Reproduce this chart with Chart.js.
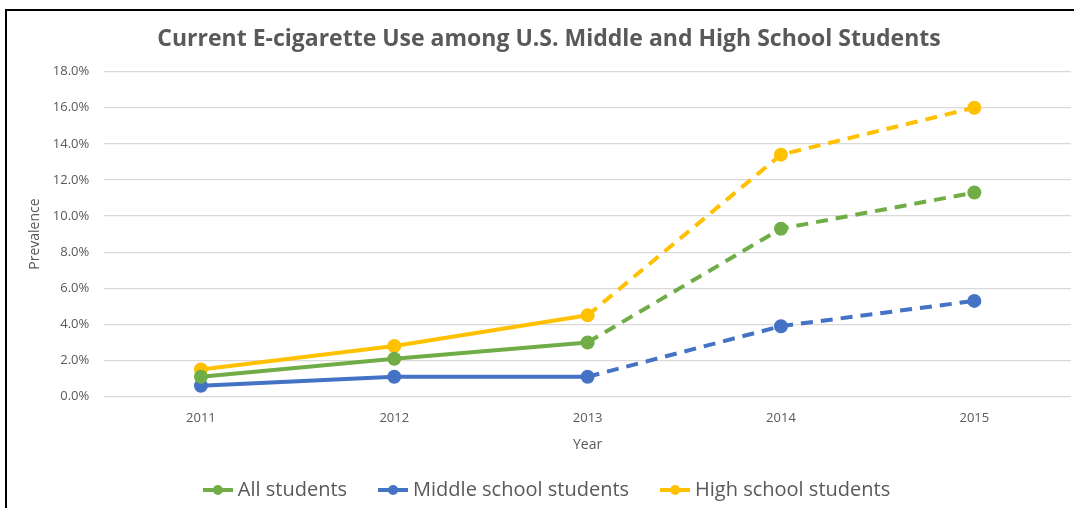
<!DOCTYPE html>
<html>
<head>
<meta charset="utf-8">
<script src="https://cdn.jsdelivr.net/npm/chart.js@4"></script>
<style>
  body { margin: 0; background: #fff; }
  #wrap { position: absolute; left: 0; top: 0; width: 1074px; height: 508px; }
  #frame { position: absolute; left: 5px; top: 9px; width: 1080px; height: 520px;
           border-left: 2px solid #000; border-top: 2px solid #000; pointer-events: none; }
</style>
</head>
<body>
<div id="wrap"><canvas id="myChart" width="1074" height="508"></canvas></div>
<div id="frame"></div>
<script>
let years = ['2011', '2012', '2013', '2014', '2015'];
let allStudents = [1.1, 2.1, 3.0, 9.3, 11.3];
let middleSchool = [0.6, 1.1, 1.1, 3.9, 5.3];
let highSchool = [1.5, 2.8, 4.5, 13.4, 16.0];
let names = ['All students', 'Middle school students', 'High school students'];
let colorHex = ['#70AD47', '#4472C4', '#FFC000'];

// legend marker: short line with a dot in the middle
function marker(color) {
    let c = document.createElement('canvas');
    c.width = 30; c.height = 12;
    let g = c.getContext('2d');
    g.strokeStyle = color;
    g.lineWidth = 4;
    g.beginPath(); g.moveTo(0, 6); g.lineTo(30, 6); g.stroke();
    g.fillStyle = color;
    g.beginPath(); g.arc(15, 6, 5, 0, Math.PI * 2); g.fill();
    return c;
}

function series(i, data) {
    return {
        label: names[i],
        data: data,
        borderColor: colorHex[i],
        backgroundColor: colorHex[i],
        borderWidth: 4,
        pointRadius: 5,
        pointHoverRadius: 5,
        pointStyle: 'circle',
        tension: 0,
        segment: {
            borderDash: (ctx) => ctx.p0DataIndex >= 2 ? [12, 8] : undefined
        }
    };
}

let ctx = document.getElementById('myChart').getContext('2d');
let myChart = new Chart(ctx, {
    type: 'line',
    data: {
        labels: years,
        datasets: [
            series(0, allStudents),
            series(1, middleSchool),
            series(2, highSchool)
        ]
    },
    options: {
        responsive: false,
        animation: false,
        layout: { autoPadding: false, padding: { left: 27, right: 3, top: 20, bottom: -2 } },
        plugins: {
            title: {
                display: true,
                text: 'Current E-cigarette Use among U.S. Middle and High School Students',
                color: '#595959',
                font: { family: 'Open Sans', size: 23, weight: 'bold' },
                padding: { top: 6, bottom: 18 }
            },
            legend: {
                position: 'bottom',
                labels: {
                    color: '#595959',
                    font: { family: 'Open Sans', size: 20 },
                    usePointStyle: true,
                    padding: 36,
                    boxWidth: 30,
                    generateLabels: (chart) => chart.data.datasets.map((d, i) => ({
                        text: d.label,
                        pointStyle: marker(colorHex[i]),
                        fillStyle: colorHex[i],
                        strokeStyle: colorHex[i],
                        fontColor: '#595959',
                        lineWidth: 0,
                        datasetIndex: i
                    }))
                }
            },
            tooltip: { enabled: false }
        },
        scales: {
            x: {
                offset: true,
                grid: { display: false },
                border: { display: false },
                ticks: { color: '#595959', font: { family: 'Open Sans', size: 13 }, padding: 6 },
                title: {
                    display: true, text: 'Year', color: '#595959',
                    font: { family: 'Open Sans', size: 14 }, padding: { top: 4, bottom: -9 }
                }
            },
            y: {
                min: 0,
                max: 18,
                grid: { color: '#D9D9D9', lineWidth: 1.2, drawTicks: false },
                border: { display: false },
                ticks: {
                    stepSize: 2,
                    color: '#595959',
                    font: { family: 'Open Sans', size: 13 },
                    padding: 15,
                    callback: (v) => v.toFixed(1) + '%'
                },
                title: {
                    display: true, text: 'Prevalence', color: '#595959',
                    font: { family: 'Open Sans', size: 14 }, padding: { top: 0, bottom: -6 }
                }
            }
        }
    }
});
</script>
</body>
</html>
